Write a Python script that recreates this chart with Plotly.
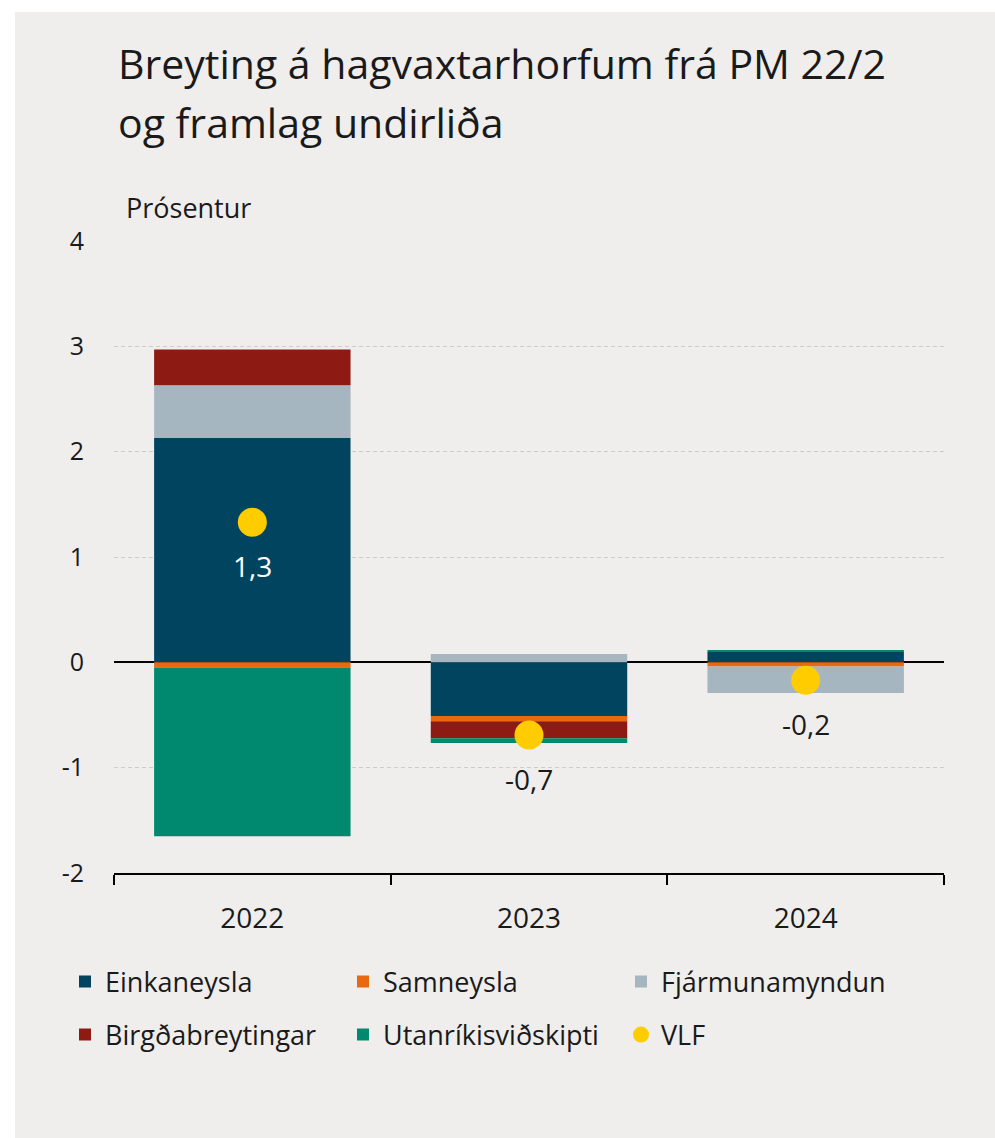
import plotly.graph_objects as go

years = ["2022", "2023", "2024"]
einkaneysla = [2.13, -0.51, 0.10]
samneysla = [-0.05, -0.05, -0.04]
fjarmunamyndun = [0.50, 0.08, -0.25]
birgdabreytingar = [0.34, -0.16, 0.0]
utanrikisvidskipti = [-1.60, -0.045, 0.012]
vlf = [1.33, -0.69, -0.17]
vlf_labels = ["1,3", "-0,7", "-0,2"]
vlf_label_colors = ["#ffffff", "#1a1a1a", "#1a1a1a"]
y_tickvals = [-2, -1, 0, 1, 2, 3, 4]
y_ticktext = ["-2", "-1", "0", "1", "2", "3", "4"]

FONT = "Open Sans"
TXT = "#1a1a1a"

series = [
    ("Einkaneysla", einkaneysla, "#00445f", "legend"),
    ("Samneysla", samneysla, "#e8690f", "legend"),
    ("Fjármunamyndun", fjarmunamyndun, "#a6b6c1", "legend"),
    ("Birgðabreytingar", birgdabreytingar, "#8e1a14", "legend2"),
    ("Utanríkisviðskipti", utanrikisvidskipti, "#00896f", "legend2"),
]

fig = go.Figure()
for name, vals, col, lg in series:
    fig.add_trace(go.Bar(
        x=years, y=vals, name=name, marker=dict(color=col, line=dict(width=0)),
        width=0.71, legend=lg,
    ))

fig.add_trace(go.Scatter(
    x=years, y=vlf, name="VLF", mode="markers",
    marker=dict(color="#ffcc00", size=29, line=dict(width=0)),
    legend="legend2",
))

# value labels under the VLF dots (category axis -> category index)
for i, (y, t, c) in enumerate(zip(vlf, vlf_labels, vlf_label_colors)):
    fig.add_annotation(x=i, y=y, xref="x", yref="y", text=t, showarrow=False,
                       yshift=-44, font=dict(family=FONT, size=28, color=c))

W, H = 995, 1138
L, R, T, B = 114, 51, 241, 265
pw, ph = W - L - R, H - T - B

def px(x):
    return (x - L) / pw

def py(y):
    return (H - B - y) / ph

fig.add_shape(type="rect", xref="paper", yref="paper",
              x0=px(15), x1=px(1010), y0=py(1160), y1=py(12),
              fillcolor="#efeeed", line=dict(width=0), layer="below")

fig.add_annotation(xref="paper", yref="paper", x=px(116), y=py(63), xanchor="left",
                   yanchor="middle", text="Breyting á hagvaxtarhorfum frá PM 22/2",
                   showarrow=False, font=dict(family=FONT, size=41, color=TXT))
fig.add_annotation(xref="paper", yref="paper", x=px(116), y=py(122), xanchor="left",
                   yanchor="middle", text="og framlag undirliða",
                   showarrow=False, font=dict(family=FONT, size=41, color=TXT))
fig.add_annotation(xref="paper", yref="paper", x=px(124), y=py(208), xanchor="left",
                   yanchor="middle", text="Prósentur",
                   showarrow=False, font=dict(family=FONT, size=27, color=TXT))

legend_common = dict(
    orientation="h", xanchor="left", yanchor="middle",
    font=dict(family=FONT, size=27, color=TXT),
    bgcolor="rgba(0,0,0,0)", entrywidth=233, entrywidthmode="pixels",
    traceorder="normal",
)

fig.update_layout(
    width=W, height=H,
    margin=dict(l=L, r=R, t=T, b=B),
    paper_bgcolor="#ffffff",
    plot_bgcolor="rgba(0,0,0,0)",
    barmode="relative",
    font=dict(family=FONT, color=TXT),
    legend=dict(x=px(65), y=py(982), **legend_common),
    legend2=dict(x=px(65), y=py(1035), **legend_common),
    xaxis=dict(
        type="category", range=[-0.5, 2.5], showline=True, linecolor="#000000",
        linewidth=2, ticks="outside", tickson="boundaries", ticklen=10, tickwidth=2,
        tickcolor="#000000", showgrid=False, ticklabelstandoff=19, tickangle=0,
        tickfont=dict(family=FONT, size=28, color=TXT),
    ),
    yaxis=dict(
        range=[-2, 4], tickvals=y_tickvals, ticktext=y_ticktext,
        showgrid=True, gridcolor="#cccccc", gridwidth=1, griddash="4px,3px",
        zeroline=True, zerolinecolor="#000000", zerolinewidth=2,
        showline=False, ticks="", ticklabelstandoff=29,
        tickfont=dict(family=FONT, size=25, color=TXT),
    ),
)

fig.write_html(
    "out.html",
    config={"displayModeBar": False},
    post_script="document.body.style.margin='0';"
                "document.documentElement.style.overflow='hidden';",
)
